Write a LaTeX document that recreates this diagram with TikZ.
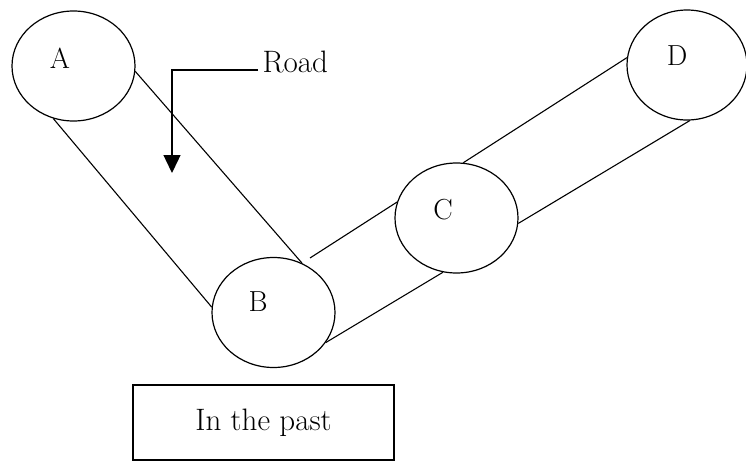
\documentclass[tikz,border=0pt]{standalone}
\usetikzlibrary{shapes.geometric,arrows.meta}
\begin{document}
\begin{tikzpicture}[x=1pt,y=-1pt,line width=1.2pt,
  town/.style={draw,ellipse,inner sep=0pt,minimum width=123pt,minimum height=110pt},
  townname/.style={inner sep=0pt,font=\fontsize{29}{29}\selectfont},
  roadline/.style={draw,line width=1.1pt},
  caption/.style={draw,rectangle,inner sep=0pt,minimum width=261pt,minimum height=75pt,
    font=\fontsize{31}{31}\selectfont}]
\useasboundingbox (0,0) rectangle (746,461);

% towns
\node[town] (A) at (73.5,66) {};
\node[town] (B) at (273.5,312.5) {};
\node[town] (C) at (456.5,218) {};
\node[town,minimum width=120pt] (D) at (687,65) {};

\node[townname] (Alab) at (60,58) {A};
\node[townname] (Blab) at (258,302) {B};
\node[townname] (Clab) at (443,210) {C};
\node[townname] (Dlab) at (677,56) {D};

% roads between the towns
\path[roadline] (A.-5.5) -- (B.60.6);
\path[roadline] (A.-111) -- (B.175.8);
\coordinate (bcstart) at (310,258);
\path[roadline] (bcstart) -- (C.165.8);
\path[roadline] (B.-30.6) -- (C.-104.5);
\path[roadline] (C.83.4) -- (D.173);
\path[roadline] (C.-5.5) -- (D.-87);

% road label with its pointer
\node[inner sep=0pt,anchor=base west,font=\fontsize{31}{31}\selectfont] (Road) at (262,72) {Road};
\coordinate (roadend) at (258,70);
\coordinate (roadtip) at (172,173);
\draw[line width=1.4pt,-{Triangle[width=17pt,length=18pt]}] (roadend) -| (roadtip);

% caption box
\node[caption,line width=1.4pt] (past) at (263.5,422.5) {In the past};
\end{tikzpicture}
\end{document}
